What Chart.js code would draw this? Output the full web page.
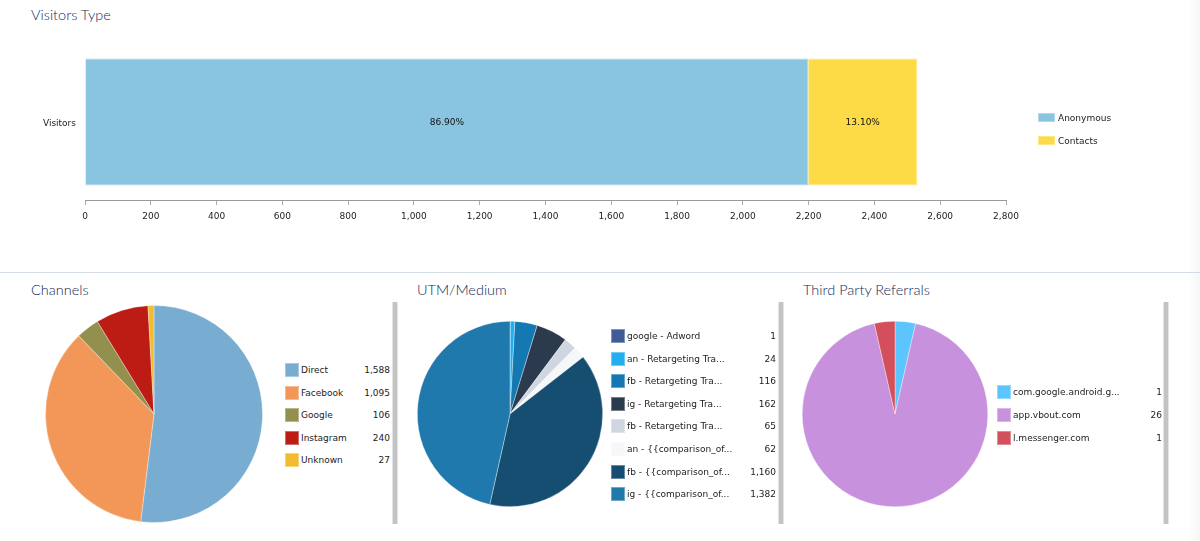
<!DOCTYPE html>
<html>
<head>
<meta charset="utf-8">
<title>Visitors</title>
<script src="https://cdn.jsdelivr.net/npm/chart.js@4/dist/chart.umd.min.js"></script>
<style>
	html, body { margin: 0; padding: 0; background: #fff; overflow: hidden; }
	body { position: relative; width: 1200px; height: 541px; font-family: "DejaVu Sans", sans-serif; font-size: 9px; color: #222; }
	canvas { position: absolute; }
	.title { position: absolute; font-family: Lato, sans-serif; font-weight: 300; font-size: 14.5px; line-height: 18px; color: #0f2a55; white-space: nowrap; }
	.fade { position: absolute; left: 1188px; top: 0; width: 12px; height: 541px; background: linear-gradient(to right, #fff, #f6f6f6); }
	.rule { position: absolute; left: 0; top: 272px; width: 1200px; height: 1px; background: #d3dbe5; }
	.scroll { position: absolute; top: 302px; width: 4px; height: 222px; background: #c3c3c3; border: 1px solid #e4e4e4; border-width: 0 1px; }
	.swatch { position: absolute; box-sizing: border-box; border: 1px solid rgba(255,255,255,0.35); }
	.label, .value { position: absolute; line-height: 12px; white-space: nowrap; }
	.value { text-align: right; }
</style>
</head>
<body>
<div class="fade"></div>
<div class="title" style="left:31px;top:6px">Visitors Type</div>
<div class="rule"></div>
<canvas id="graph_visitors" style="left:0;top:0"></canvas>

<div class="title" style="left:31px;top:281px">Channels</div>
<canvas id="graph_channels" style="left:44px;top:304px"></canvas>
<div class="scroll" style="left:392px"></div>

<div class="title" style="left:417px;top:281px">UTM/Medium</div>
<canvas id="graph_utm" style="left:400px;top:304px"></canvas>
<div class="scroll" style="left:778px"></div>

<div class="title" style="left:803px;top:281px">Third Party Referrals</div>
<canvas id="graph_referrals" style="left:785px;top:304px"></canvas>
<div class="scroll" style="left:1163px"></div>

<script>
// visitors type
var visitorCategories = ['Visitors']
var anonymousValues = [2199]
var contactValues = [331]
var visitorPercents = ['86.90%', '13.10%']
var visitorTicks = [0, 200, 400, 600, 800, 1000, 1200, 1400, 1600, 1800, 2000, 2200, 2400, 2600, 2800]

// channels
var channelLabels = ['Direct', 'Facebook', 'Google', 'Instagram', 'Unknown']
var channelValues = [1588, 1095, 106, 240, 27]
var channelColors = ['#78acd0', '#f29757', '#93904e', '#bd1c14', '#f3bc2f']

// utm / medium
var utmLabels = ['google - Adword', 'an - Retargeting Tra...', 'fb - Retargeting Tra...', 'ig - Retargeting Tra...', 'fb - Retargeting Tra...', 'an - {{comparison_of...', 'fb - {{comparison_of...', 'ig - {{comparison_of...']
var utmValues = [1, 24, 116, 162, 65, 62, 1160, 1382]
var utmColors = ['#3f5c97', '#22aeef', '#1479b2', '#2c3a4d', '#d0d6df', '#f6f7f9', '#154e70', '#2079ad']

// third party referrals
var referralLabels = ['com.google.android.g...', 'app.vbout.com', 'l.messenger.com']
var referralValues = [1, 26, 1]
var referralColors = ['#5cc5fd', '#c791dd', '#d24f5b']

var barFont = { family: '"DejaVu Sans", sans-serif', size: 9 }

// writes the percent in the middle of each bar
var barPercentPlugin = {
	id: 'barPercent',
	afterDatasetsDraw: function (chart) {
		var ctx = chart.ctx
		ctx.save()
		ctx.font = '9px "DejaVu Sans", sans-serif'
		ctx.fillStyle = '#111'
		ctx.textAlign = 'center'
		ctx.textBaseline = 'middle'
		chart.data.datasets.forEach(function (ds, i) {
			var bar = chart.getDatasetMeta(i).data[0]
			ctx.fillText(visitorPercents[i], (bar.base + bar.x) / 2, bar.y + 0.5)
		})
		ctx.restore()
	}
}

function drawVisitorsGraph() {
	new Chart(document.getElementById('graph_visitors'), {
		type: 'bar',
		data: {
			labels: visitorCategories,
			datasets: [
				{ label: 'Anonymous', data: anonymousValues, backgroundColor: '#89c4e1', borderColor: '#a9d5ea', borderWidth: 1 },
				{ label: 'Contacts', data: contactValues, backgroundColor: '#fddb46', borderColor: '#fde57f', borderWidth: 1 }
			]
		},
		options: {
			indexAxis: 'y',
			responsive: false,
			animation: false,
			layout: { padding: { top: 44, right: 194 } },
			datasets: { bar: { barPercentage: 0.815, categoryPercentage: 1 } },
			plugins: { legend: { display: false }, tooltip: { enabled: false } },
			scales: {
				x: {
					stacked: true,
					min: 0,
					max: 2800,
					afterFit: function (scale) { scale.height = 70 },
					afterBuildTicks: function (scale) {
						scale.ticks = visitorTicks.map(function (v) { return { value: v } })
					},
					border: { color: '#999' },
					grid: { drawOnChartArea: false, color: '#aaa', tickLength: 5 },
					ticks: {
						font: barFont,
						color: '#222',
						padding: 6,
						maxRotation: 0,
						autoSkip: false,
						callback: function (v) { return v.toLocaleString('en-US') }
					}
				},
				y: {
					stacked: true,
					afterFit: function (scale) { scale.width = 85 },
					border: { display: false },
					grid: { display: false },
					ticks: {
						// empty first line pushes the label 2px down
						font: { family: barFont.family, size: 9, lineHeight: 0.45 },
						color: '#222',
						padding: 1,
						callback: function (v) { return ['', this.getLabelForValue(v)] }
					}
				}
			}
		},
		plugins: [barPercentPlugin]
	})
}

function drawPie(id, labels, values, colors, radius) {
	new Chart(document.getElementById(id), {
		type: 'pie',
		data: {
			labels: labels,
			datasets: [{ data: values, backgroundColor: colors, borderColor: 'rgba(255,255,255,0.35)', borderWidth: 1, radius: radius }]
		},
		options: {
			responsive: false,
			animation: false,
			plugins: { legend: { display: false }, tooltip: { enabled: false } }
		}
	})
}

function addLegendBox(x, y, w, h, color) {
	var box = document.createElement('div')
	box.className = 'swatch'
	box.style.cssText = 'left:' + x + 'px;top:' + y + 'px;width:' + w + 'px;height:' + h + 'px;background:' + color
	document.body.appendChild(box)
}

function addLegendText(cls, text, x, y) {
	var el = document.createElement('div')
	el.className = cls
	el.textContent = text
	el.style.top = y + 'px'
	if (cls == 'value') {
		el.style.right = (1200 - x) + 'px'
	} else {
		el.style.left = x + 'px'
	}
	document.body.appendChild(el)
}

// swatch, name and right aligned value for each row
function drawPieLegend(labels, values, colors, left, right, firstY) {
	for (i = 0; i < labels.length; i++) {
		var y = firstY + i * 22.6
		addLegendBox(left, Math.round(y - 7), 14, 14, colors[i])
		addLegendText('label', labels[i], left + 16, Math.round(y - 6))
		addLegendText('value', values[i].toLocaleString('en-US'), right, Math.round(y - 6))
	}
}

function setCanvasSize(id, w, h) {
	var c = document.getElementById(id)
	c.width = w
	c.height = h
}

setCanvasSize('graph_visitors', 1200, 270)
setCanvasSize('graph_channels', 220, 220)
setCanvasSize('graph_utm', 220, 220)
setCanvasSize('graph_referrals', 220, 220)

drawVisitorsGraph()
drawPie('graph_channels', channelLabels, channelValues, channelColors, 108.5)
drawPie('graph_utm', utmLabels, utmValues, utmColors, 92.7)
drawPie('graph_referrals', referralLabels, referralValues, referralColors, 92.8)

addLegendBox(1038, 113, 17, 9, '#89c4e1')
addLegendBox(1038, 136, 17, 9, '#fddb46')
addLegendText('label', 'Anonymous', 1058, 112)
addLegendText('label', 'Contacts', 1058, 135)

drawPieLegend(channelLabels, channelValues, channelColors, 285, 390, 370)
drawPieLegend(utmLabels, utmValues, utmColors, 611, 776, 336)
drawPieLegend(referralLabels, referralValues, referralColors, 997, 1162, 392.4)
</script>
</body>
</html>
